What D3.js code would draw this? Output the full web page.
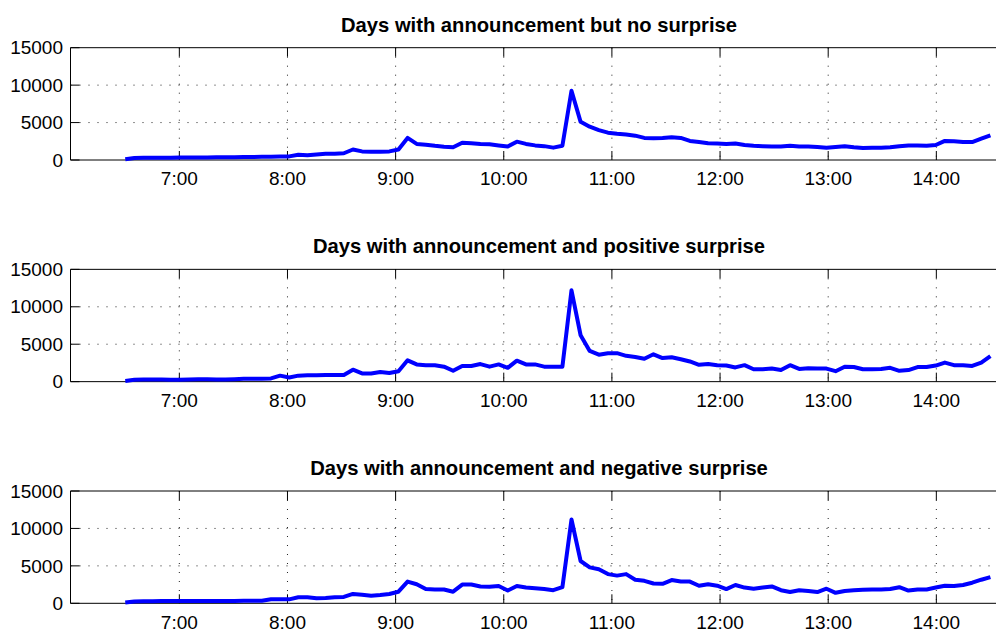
<!DOCTYPE html>
<html>
<head>
<meta charset="utf-8">
<script src="https://cdn.jsdelivr.net/npm/d3@7"></script>
<style>
html,body{margin:0;padding:0;background:#fff;}
svg{display:block;}
text{font-family:"Liberation Sans",Arial,Helvetica,sans-serif;fill:#000;}
</style>
</head>
<body>
<svg id="chart" width="996" height="630"></svg>
<script>
// ---- data ----
const titles = [
  "Days with announcement but no surprise",
  "Days with announcement and positive surprise",
  "Days with announcement and negative surprise"
];
const noSurprise = [100,280,290,300,300,310,320,330,340,350,360,370,380,400,410,420,440,460,480,700,650,750,850,850,900,1400,1150,1100,1100,1150,1400,2950,2150,2050,1900,1780,1700,2300,2250,2150,2100,1950,1800,2450,2150,1950,1850,1650,1900,9250,5100,4450,4000,3650,3500,3400,3250,2950,2900,2950,3050,2950,2550,2400,2250,2200,2150,2200,2000,1900,1850,1800,1800,1900,1800,1800,1750,1650,1750,1850,1700,1600,1650,1650,1700,1850,1950,1950,1900,2000,2550,2500,2400,2400,2850,3300];
const positiveSurprise = [100,250,300,300,300,250,250,300,330,330,300,300,330,380,380,400,430,800,550,800,850,850,900,900,900,1600,1100,1100,1300,1150,1400,2850,2300,2200,2200,2000,1450,2100,2100,2350,2000,2300,1850,2800,2300,2300,2000,2000,2000,12200,6200,4100,3600,3800,3800,3450,3300,3050,3650,3150,3250,3000,2700,2250,2350,2200,2150,1900,2200,1650,1650,1750,1550,2200,1700,1800,1750,1750,1400,2000,1950,1650,1650,1700,1850,1450,1550,1950,1950,2150,2550,2200,2200,2100,2550,3400];
const negativeSurprise = [100,250,280,290,300,300,300,300,310,320,320,320,300,330,350,350,530,530,530,800,800,670,700,800,850,1250,1150,1000,1100,1250,1550,2900,2550,1900,1850,1850,1550,2500,2500,2250,2200,2300,1700,2300,2100,2000,1900,1750,2150,11200,5650,4800,4550,3900,3700,3900,3150,3000,2650,2600,3100,2900,2900,2350,2550,2350,1900,2450,2100,1950,2100,2250,1750,1500,1750,1650,1500,1950,1400,1650,1750,1800,1850,1850,1900,2150,1700,1850,1850,2100,2350,2300,2450,2750,3150,3500];
const seriesList = [noSurprise, positiveSurprise, negativeSurprise];
const yTicks = [0, 5000, 10000, 15000];
const xTickHours = [7, 8, 9, 10, 11, 12, 13, 14];
const startHour = 6.5, endHour = 14.5;

// ---- helpers ----
const day = (h) => new Date(2000, 0, 1, Math.floor(h), Math.round((h - Math.floor(h)) * 60));
const nPts = noSurprise.length;
const times = d3.range(nPts).map(i => new Date(day(startHour).getTime() + i * (day(endHour) - day(startHour)) / (nPts - 1)));

const svg = d3.select("#chart");
const x = d3.scaleTime().domain([day(6), day(14.5)]).range([71.2, 990.4]);
const frameRight = 1000;
const panelTop0 = 47.7, panelStep = 221.65, panelH = 112.3;
const tickLen = 9;

seriesList.forEach((vals, p) => {
  const top = panelTop0 + p * panelStep;
  const bottom = top + panelH;
  const y = d3.scaleLinear().domain([0, 15000]).range([bottom, top]);
  const g = svg.append("g");
  const xl = Math.round(x(day(6))) - 0.5;

  // grid
  g.selectAll(".vg").data(xTickHours).enter().append("line")
    .attr("x1", d => x(day(d))).attr("x2", d => x(day(d)))
    .attr("y1", top).attr("y2", bottom)
    .attr("stroke", "#222").attr("stroke-width", 1).attr("stroke-dasharray", "1,8");
  g.selectAll(".hg").data(yTicks.filter(v => v > 0 && v < 15000)).enter().append("line")
    .attr("x1", xl).attr("x2", frameRight)
    .attr("y1", d => y(d)).attr("y2", d => y(d))
    .attr("stroke", "#222").attr("stroke-width", 1).attr("stroke-dasharray", "1,8");

  // frame
  g.append("path")
    .attr("d", `M${frameRight},${top}H${xl}V${bottom}H${frameRight}`)
    .attr("fill", "none").attr("stroke", "#000").attr("stroke-width", 1);

  // ticks inside
  xTickHours.forEach(h => {
    const xx = x(day(h));
    g.append("line").attr("x1", xx).attr("x2", xx).attr("y1", bottom).attr("y2", bottom - tickLen).attr("stroke", "#000");
    g.append("line").attr("x1", xx).attr("x2", xx).attr("y1", top).attr("y2", top + tickLen).attr("stroke", "#000");
  });
  yTicks.forEach(v => {
    g.append("line").attr("x1", xl).attr("x2", xl + tickLen).attr("y1", y(v)).attr("y2", y(v)).attr("stroke", "#000");
  });

  // tick labels
  g.selectAll(".yl").data(yTicks).enter().append("text")
    .attr("x", 63).attr("y", d => y(d)).attr("dy", "0.35em")
    .attr("text-anchor", "end").attr("font-size", 19)
    .text(d => d);
  g.selectAll(".xl").data(xTickHours).enter().append("text")
    .attr("x", d => x(day(d))).attr("y", bottom + 25.3)
    .attr("text-anchor", "middle").attr("font-size", 19)
    .text(d => d3.timeFormat("%-H:%M")(day(d)));

  // title
  g.append("text").attr("x", 539).attr("y", top - 16)
    .attr("text-anchor", "middle").attr("font-size", 20.2).attr("font-weight", "bold")
    .text(titles[p]);

  // line
  const line = d3.line().x((d, i) => x(times[i])).y(d => y(d));
  g.append("path").datum(vals).attr("d", line)
    .attr("fill", "none").attr("stroke", "#0000ff").attr("stroke-width", 4)
    .attr("stroke-linejoin", "round");
});
</script>
</body>
</html>
